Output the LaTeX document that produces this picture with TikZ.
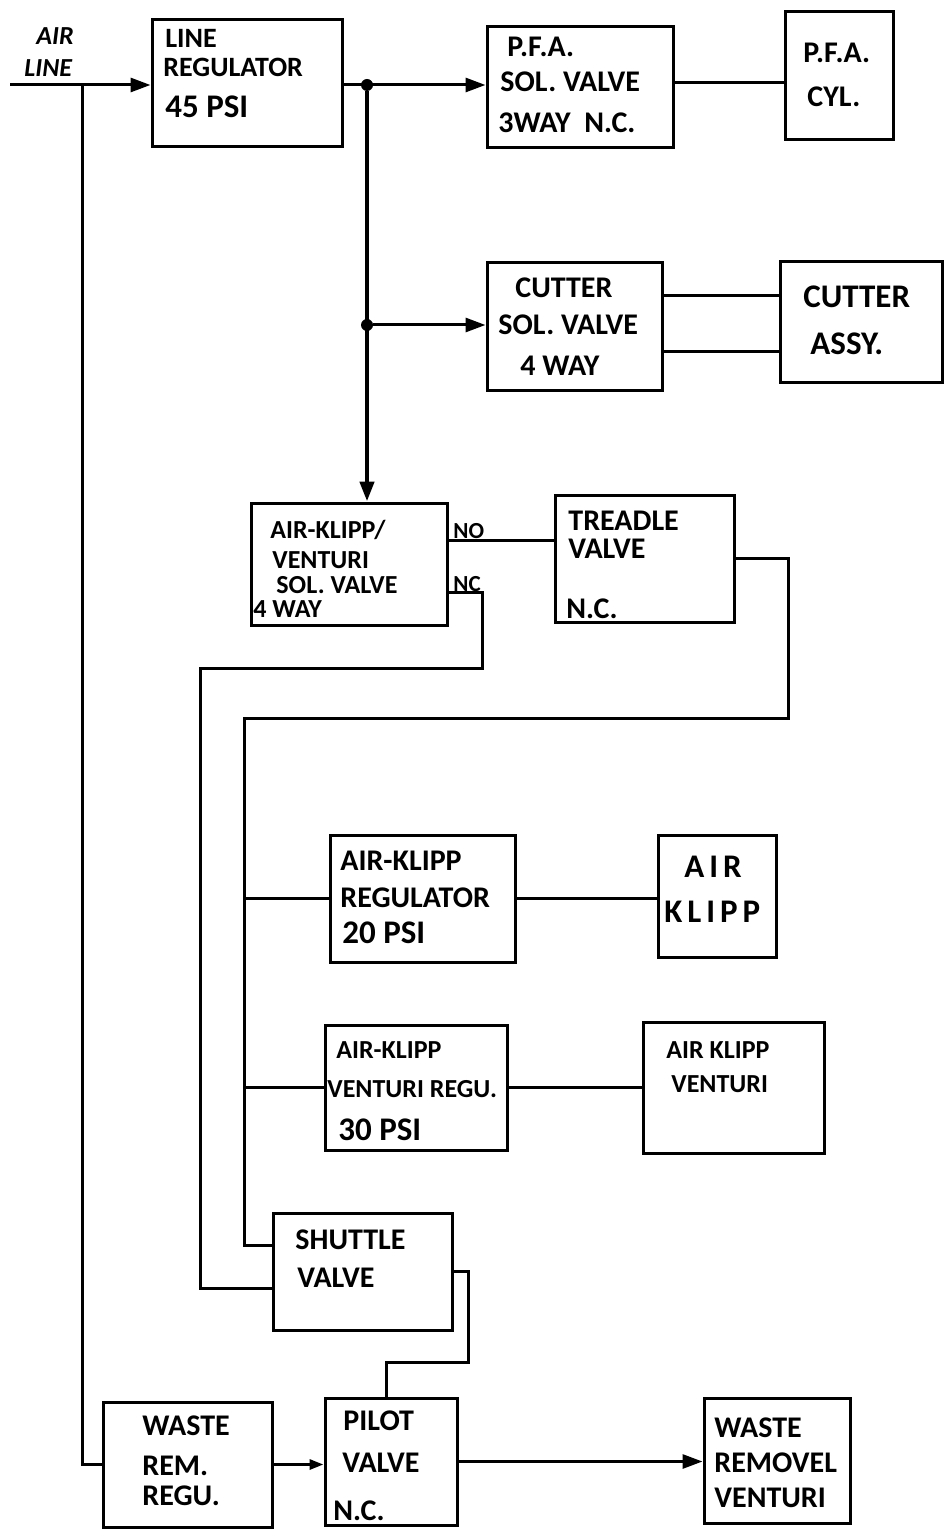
\documentclass[tikz,border=0pt]{standalone}
\usepackage{fontspec}
\setmainfont{Carlito}
\newfontfamily\widefam[LetterSpace=15]{Carlito}
\usetikzlibrary{arrows.meta,calc}
\newcommand\fstd{\bfseries\fontsize{15}{18}\selectfont}
\newcommand\fmid{\bfseries\fontsize{14}{17}\selectfont}
\newcommand\fsml{\bfseries\fontsize{13}{16}\selectfont}
\newcommand\fbig{\bfseries\fontsize{16.5}{20}\selectfont}
\newcommand\ftiny{\bfseries\fontsize{11.5}{14}\selectfont}
\newcommand\mkbox[5]{\node[boxst, minimum width={(#4-#2)*0.5pt}, minimum height={(#5-#3)*0.5pt}] (#1) at ({(#2+#4)/2},{(#3+#5)/2}) {};}
\newcommand\tx[5]{\node[txt,#1,anchor=base west] (#2) at (#3,#4) {#5};}
\begin{document}
\begin{tikzpicture}[x=0.5pt,y=-0.5pt,
  boxst/.style={draw, line width=1.5pt, rectangle, inner sep=0pt},
  txt/.style={inner sep=0pt, font=\fstd},
  mid/.style={font=\fmid},
  sml/.style={font=\fsml},
  big/.style={font=\fbig},
  tiny/.style={font=\ftiny},
  wide/.style={font=\widefam\fbig},
  ln/.style={line width=1.5pt},
  trunk/.style={line width=2.2pt},
  arr/.style={-{Triangle[length=10pt,width=7pt]}},
  arrs/.style={-{Triangle[length=7pt,width=5pt]}},
  dot/.style={circle, fill, inner sep=0pt, minimum size=6pt}]
\useasboundingbox (0,0) rectangle (948,1535);

% boxes
\mkbox{lreg}{152}{20}{342}{147}
\mkbox{pfasol}{487}{27}{673}{148}
\mkbox{pfacyl}{785}{12}{893}{140}
\mkbox{cutsol}{487}{263}{662}{390}
\mkbox{cutassy}{780}{262}{942}{382}
\mkbox{aksol}{251}{503}{447}{625}
\mkbox{treadle}{555}{495}{734}{622}
\mkbox{akreg}{330}{835}{515}{962}
\mkbox{akl}{658}{835}{776}{957}
\mkbox{akvreg}{325}{1025}{507}{1150}
\mkbox{akv}{643}{1022}{824}{1153}
\mkbox{shuttle}{273}{1213}{452}{1330}
\mkbox{wrr}{103}{1402}{272}{1527}
\mkbox{pilot}{325}{1398}{457}{1525}
\mkbox{wrv}{704}{1398}{850}{1523}

% texts
\tx{font=\fsml\itshape}{tair}{36}{45}{AIR}
\tx{font=\fsml\itshape}{tline}{24}{77}{LINE}

\tx{mid}{lreg1}{165}{48}{LINE}
\tx{mid}{lreg2}{163}{77}{REGULATOR}
\tx{big}{lreg3}{165}{118}{45 PSI}

\tx{}{pfasol1}{507}{57}{P.F.A.}
\tx{}{pfasol2}{500}{92}{SOL. VALVE}
\tx{}{pfasol3}{498}{133}{3WAY\ \ N.C.}

\tx{}{pfacyl1}{803}{63}{P.F.A.}
\tx{}{pfacyl2}{807}{107}{CYL.}

\tx{}{cutsol1}{515}{298}{CUTTER}
\tx{}{cutsol2}{498}{335}{SOL. VALVE}
\tx{}{cutsol3}{520}{375}{4 WAY}

\tx{big}{cutassy1}{803}{308}{CUTTER}
\tx{big}{cutassy2}{810}{355}{ASSY.}

\tx{sml}{aksol1}{270}{538}{AIR-KLIPP/}
\tx{sml}{aksol2}{272}{568}{VENTURI}
\tx{sml}{aksol3}{276}{593}{SOL. VALVE}
\tx{sml}{aksol4}{253}{617}{4 WAY}
\tx{tiny}{lno}{453}{538}{NO}
\tx{tiny}{lnc}{453}{591}{NC}

\tx{}{tread1}{568}{530}{TREADLE}
\tx{}{tread2}{568}{558}{VALVE}
\tx{}{tread3}{566}{618}{N.C.}

\tx{}{akreg1}{340}{870}{AIR-KLIPP}
\tx{}{akreg2}{340}{907}{REGULATOR}
\tx{big}{akreg3}{342}{943}{20 PSI}

\tx{wide}{akl1}{684}{877}{AIR}
\tx{wide}{akl2}{664}{922}{KLIPP}

\tx{sml}{akvreg1}{336}{1058}{AIR-KLIPP}
\tx{sml}{akvreg2}{327}{1097}{VENTURI REGU.}
\tx{big}{akvreg3}{338}{1140}{30 PSI}

\tx{sml}{akv1}{666}{1058}{AIR KLIPP}
\tx{sml}{akv2}{671}{1092}{VENTURI}

\tx{}{shut1}{295}{1249}{SHUTTLE}
\tx{}{shut2}{297}{1287}{VALVE}

\tx{}{wrr1}{142}{1435}{WASTE}
\tx{}{wrr2}{142}{1475}{REM.}
\tx{}{wrr3}{142}{1505}{REGU.}

\tx{}{pil1}{343}{1430}{PILOT}
\tx{}{pil2}{342}{1472}{VALVE}
\tx{}{pil3}{333}{1520}{N.C.}

\tx{}{wrv1}{714}{1437}{WASTE}
\tx{}{wrv2}{714}{1472}{REMOVEL}
\tx{}{wrv3}{714}{1507}{VENTURI}

% junctions and bend points
\coordinate (airst) at (10,85);
\coordinate (j0) at (82,85);
\node[dot] (j1) at (367,85) {};
\node[dot] (j2) at (367,325) {};
\coordinate (ncA) at (482,668);
\coordinate (ncB) at (200,668);
\coordinate (trA) at (788,718);
\coordinate (trB) at (244,718);
\coordinate (shA) at (468,1362);
\coordinate (shB) at (386,1362);

% connectors
\draw[ln,arr] (airst) -- (airst -| lreg.west);
\draw[ln] (j0) |- (wrr.west);
\draw[ln,arr] (lreg.east |- j1) -- (j1 -| pfasol.west);
\draw[trunk,arr] (j1) -- (j1 |- aksol.north);
\draw[ln,arr] (j2) -- (j2 -| cutsol.west);
\draw[ln] ($(pfasol.east)+(0,-5)$) -- ($(pfacyl.west |- pfasol.east)+(0,-5)$);
\draw[ln] ($(cutsol.east)+(0,-30.5)$) -- ($(cutassy.west |- cutsol.east)+(0,-30.5)$);
\draw[ln] ($(cutsol.east)+(0,25.5)$) -- ($(cutassy.west |- cutsol.east)+(0,25.5)$);
\draw[ln] ($(aksol.east)+(0,-24)$) -- ($(treadle.west |- aksol.east)+(0,-24)$);
\draw[ln] ($(aksol.east)+(0,28)$) -| (ncA) -- (ncB) |- ($(shuttle.west)+(0,16.5)$);
\draw[ln] (treadle.east) -| (trA) -- (trB) |- ($(shuttle.west)+(0,-26.5)$);
\draw[ln] (trB |- akreg.west) -- (akreg.west);
\draw[ln] (trB |- akvreg.west) -- (akvreg.west);
\draw[ln] (akreg.east) -- (akl.west |- akreg.east);
\draw[ln] (akvreg.east) -- (akv.west |- akvreg.east);
\draw[ln] (shuttle.east) -| (shA) -- (shB) -- (shB |- pilot.north);
\draw[ln,arrs] (wrr.east) -- (pilot.west |- wrr.east);
\draw[ln,arr] (pilot.east) -- (wrv.west |- pilot.east);
\end{tikzpicture}
\end{document}
